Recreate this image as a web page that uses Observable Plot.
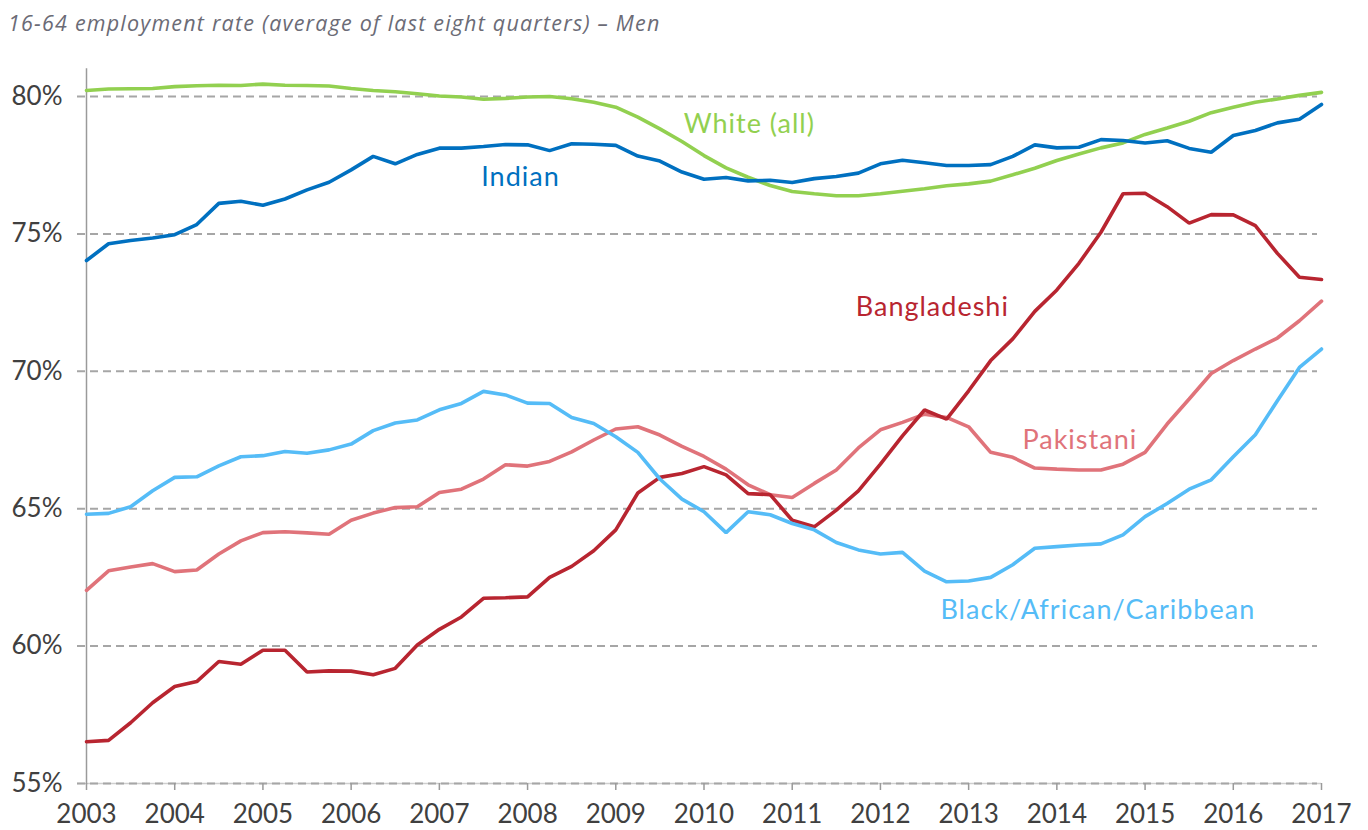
<!DOCTYPE html>
<html>
<head>
<meta charset="utf-8">
<script src="https://cdn.jsdelivr.net/npm/d3@7"></script>
<script src="https://cdn.jsdelivr.net/npm/@observablehq/plot@0.6"></script>
<style>
  html, body { margin: 0; padding: 0; background: #ffffff; }
  #subtitle {
    box-sizing: border-box; height: 44px; padding: 12px 0 0 8px;
    font-family: "Open Sans", sans-serif; font-style: italic; font-size: 21.5px; line-height: 21px;
    color: #6b6b76; white-space: nowrap; letter-spacing: 1.2px;
  }
  #chart svg { display: block; }
  #chart svg g[aria-label="text"] text { letter-spacing: 1px; }
</style>
</head>
<body>
<div id="subtitle">16-64 employment rate (average of last eight quarters) – Men</div>
<div id="chart"></div>
<script>
// Quarterly observations, 2003 Q1 … 2017 Q1
const startYear = 2003;
const quarterCount = 57;

const white = [80.22, 80.27, 80.28, 80.29, 80.36, 80.39, 80.41, 80.40, 80.45, 80.41, 80.40, 80.38, 80.29, 80.22, 80.17, 80.10, 80.02, 79.98, 79.90, 79.93,
  79.98, 80.00, 79.92, 79.79, 79.61, 79.25, 78.82, 78.36, 77.85, 77.40, 77.06, 76.76, 76.54, 76.46, 76.39, 76.39, 76.46, 76.55, 76.64,
  76.75, 76.82, 76.92, 77.15, 77.39, 77.67, 77.91, 78.13, 78.31, 78.62, 78.85, 79.10, 79.41, 79.61, 79.79, 79.91, 80.04, 80.15];

const indian = [74.03, 74.64, 74.76, 74.85, 74.97, 75.34, 76.11, 76.19, 76.04, 76.27, 76.60, 76.88, 77.33, 77.82, 77.55, 77.89, 78.12, 78.12, 78.18, 78.25,
  78.24, 78.03, 78.28, 78.26, 78.22, 77.83, 77.65, 77.25, 76.99, 77.05, 76.93, 76.95, 76.87, 77.01, 77.09, 77.21, 77.55, 77.68, 77.59,
  77.49, 77.49, 77.52, 77.82, 78.24, 78.13, 78.15, 78.43, 78.40, 78.31, 78.39, 78.11, 77.97, 78.58, 78.76, 79.04, 79.17, 79.71];

const pakistani = [62.03, 62.74, 62.88, 63.00, 62.71, 62.77, 63.35, 63.83, 64.13, 64.16, 64.12, 64.07, 64.58, 64.84, 65.04, 65.07, 65.59, 65.71, 66.08, 66.60,
  66.55, 66.72, 67.07, 67.50, 67.90, 67.98, 67.68, 67.27, 66.90, 66.44, 65.87, 65.51, 65.41, 65.92, 66.41, 67.21, 67.87, 68.14, 68.44,
  68.32, 67.98, 67.05, 66.87, 66.48, 66.44, 66.41, 66.41, 66.62, 67.05, 68.08, 68.99, 69.92, 70.39, 70.81, 71.21, 71.84, 72.55];

const bangladeshi = [56.52, 56.57, 57.21, 57.94, 58.53, 58.71, 59.44, 59.34, 59.85, 59.85, 59.06, 59.10, 59.09, 58.96, 59.19, 60.04, 60.61, 61.06, 61.74, 61.76,
  61.79, 62.50, 62.90, 63.47, 64.23, 65.57, 66.14, 66.28, 66.53, 66.23, 65.55, 65.51, 64.58, 64.34, 64.95, 65.65, 66.62, 67.65, 68.59,
  68.26, 69.29, 70.39, 71.18, 72.18, 72.96, 73.93, 75.06, 76.46, 76.48, 75.99, 75.39, 75.70, 75.69, 75.30, 74.29, 73.42, 73.34];

const black = [64.80, 64.83, 65.07, 65.65, 66.14, 66.16, 66.56, 66.89, 66.93, 67.08, 67.02, 67.14, 67.35, 67.84, 68.12, 68.23, 68.60, 68.83, 69.27, 69.14,
  68.84, 68.83, 68.32, 68.10, 67.62, 67.05, 66.08, 65.35, 64.89, 64.13, 64.89, 64.78, 64.46, 64.23, 63.77, 63.50, 63.35, 63.41, 62.73,
  62.34, 62.37, 62.50, 62.96, 63.56, 63.62, 63.68, 63.72, 64.05, 64.71, 65.19, 65.71, 66.05, 66.89, 67.69, 68.93, 70.14, 70.81];

const seriesNames  = ["White (all)", "Indian", "Pakistani", "Bangladeshi", "Black/African/Caribbean"];
const seriesValues = [white, indian, pakistani, bangladeshi, black];
const seriesColors = ["#92d050", "#0070c0", "#e0737a", "#b82530", "#55bcf7"];

// label anchor points (year, percent)
const labelX = [2009.77, 2007.475, 2013.61, 2011.72, 2012.68];
const labelY = [78.97, 77.07, 67.49, 72.34, 61.30];

const yTicks = [55, 60, 65, 70, 75, 80];
const xTicks = [2003, 2004, 2005, 2006, 2007, 2008, 2009, 2010, 2011, 2012, 2013, 2014, 2015, 2016, 2017];

const quarters = d3.range(quarterCount).map(i => startYear + i / 4);
const series = seriesNames.map((name, k) => ({
  name, color: seriesColors[k],
  data: quarters.map((t, i) => ({t, v: seriesValues[k][i]}))
}));
const labels = seriesNames.map((name, k) => ({name, x: labelX[k], y: labelY[k], color: seriesColors[k]}));

// drawing order (bottom to top)
const order = [0, 1, 2, 3, 4];

const chart = Plot.plot({
  width: 1368,
  height: 786,
  marginLeft: 86,
  marginRight: 47,
  marginTop: 24.5,
  marginBottom: 47,
  x: {domain: [2003, 2017]},
  y: {domain: [55, 81]},
  style: {fontFamily: "Lato, sans-serif", background: "#ffffff", color: "#404040"},
  marks: [
    Plot.ruleY([55], {stroke: "#cfcfcf", strokeWidth: 1.5, insetLeft: -9}),
    Plot.gridY(yTicks, {stroke: "#a6a6a6", strokeOpacity: 1, strokeWidth: 2, strokeDasharray: "8,5", insetLeft: -9, insetRight: 4}),
    Plot.frame({anchor: "left", stroke: "#9a9a9a", strokeWidth: 1.5}),
    Plot.axisY(yTicks, {tickSize: 0, tickPadding: 24, tickFormat: d => d + "%", fontSize: 26, fill: "#404040"}),
    Plot.axisX(xTicks, {tickSize: 7, tickPadding: 14, tickFormat: d => String(d), fontSize: 26, fill: "#404040", stroke: "#9a9a9a", strokeWidth: 1.5}),
    ...order.map(k => Plot.lineY(series[k].data, {x: "t", y: "v", stroke: series[k].color, strokeWidth: 3.6, strokeLinejoin: "miter", strokeLinecap: "round"})),
    ...labels.map(l => Plot.text([l], {x: "x", y: "y", text: "name", fill: l.color, textAnchor: "start", lineAnchor: "middle", fontSize: 27}))
  ]
});
document.getElementById("chart").appendChild(chart);
</script>
</body>
</html>
